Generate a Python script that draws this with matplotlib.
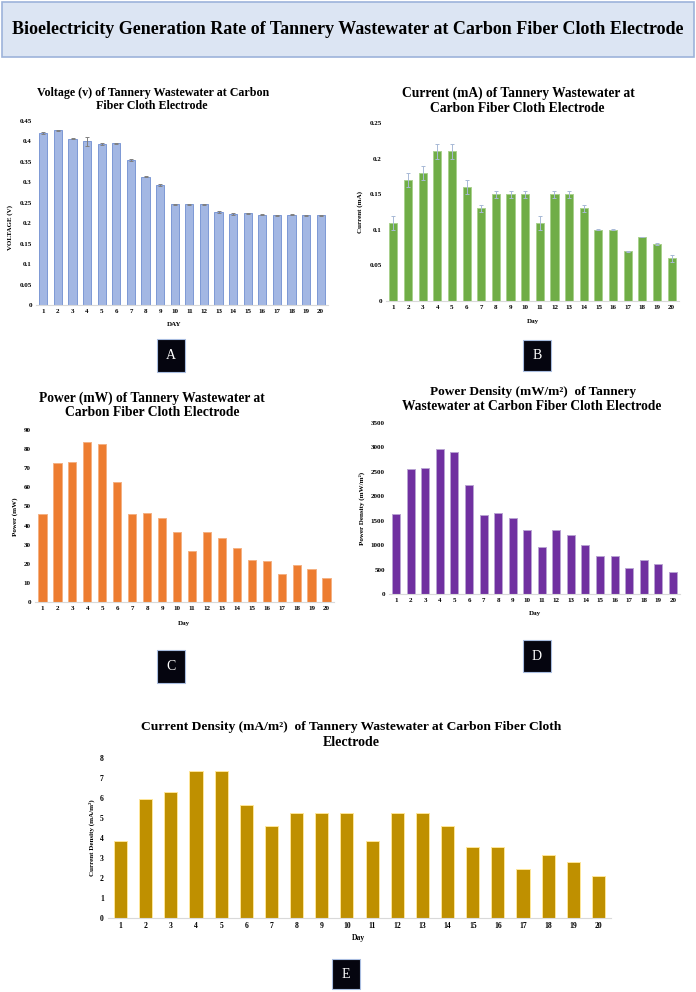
import matplotlib
matplotlib.use("Agg")
import matplotlib.pyplot as plt
from matplotlib.patches import Rectangle

W, H = 696, 992
SERIF = ["Liberation Serif", "DejaVu Serif"]

days = list(range(1, 21))
day_labels = [str(d) for d in days]

voltage = [0.421, 0.427, 0.407, 0.400, 0.394, 0.395, 0.354, 0.314, 0.294, 0.246,
           0.246, 0.246, 0.227, 0.222, 0.224, 0.221, 0.219, 0.221, 0.219, 0.219]
voltage_err = [0.002, 0.002, 0.002, 0.010, 0.002, 0.002, 0.002, 0.002, 0.002, 0.001,
               0.001, 0.001, 0.002, 0.002, 0.001, 0.001, 0.001, 0.001, 0.001, 0.001]

current = [0.11, 0.17, 0.18, 0.21, 0.21, 0.16, 0.13, 0.15, 0.15, 0.15,
           0.11, 0.15, 0.15, 0.13, 0.10, 0.10, 0.07, 0.09, 0.08, 0.06]
current_err = [0.01, 0.01, 0.01, 0.01, 0.01, 0.01, 0.005, 0.005, 0.005, 0.005,
               0.01, 0.005, 0.005, 0.005, 0.0005, 0.0005, 0.0005, 0.0005, 0.001, 0.005]

power = [46.1, 72.5, 73.1, 83.9, 82.5, 62.9, 45.8, 46.8, 43.7, 36.7,
         26.7, 36.7, 33.7, 28.3, 21.8, 21.7, 14.9, 19.4, 17.1, 12.8]

power_density = [1630, 2560, 2575, 2960, 2915, 2225, 1620, 1660, 1550, 1300,
                 955, 1300, 1198, 1012, 776, 776, 531, 701, 613, 456]

current_density = [3.87, 5.97, 6.32, 7.37, 7.37, 5.63, 4.58, 5.26, 5.26, 5.26,
                   3.87, 5.26, 5.26, 4.58, 3.54, 3.54, 2.46, 3.17, 2.80, 2.12]

main_title = "Bioelectricity Generation Rate of Tannery Wastewater at Carbon Fiber Cloth Electrode"

fig = plt.figure(figsize=(W / 100, H / 100), dpi=100)
fig.patch.set_facecolor("white")


def fx(x):
    return x / W


def fy(y):
    return 1 - y / H


def rect(l, r, top, bottom):
    return [fx(l), fy(bottom), (r - l) / W, (bottom - top) / H]


renderer = fig.canvas.get_renderer()


def fit_text(xc, yc, s, target_w, size0=9, **kw):
    t = fig.text(fx(xc), fy(yc), s, ha="center", va="center", family=SERIF,
                 fontweight="bold", fontsize=size0, **kw)
    bb = t.get_window_extent(renderer=renderer)
    if bb.width > 0:
        t.set_fontsize(size0 * target_w / bb.width)
    return t


# header box
fig.patches.append(Rectangle((fx(2), fy(57)), (692) / W, 55 / H, transform=fig.transFigure,
                             facecolor="#dce5f3", edgecolor="#9db3da", linewidth=1.2))
fit_text(348, 30, main_title, 668, size0=13)


def panel(box, values, color, edge, ymax, ystep, yfmt, ylabel, xlabel,
          err=None, errcolor=None, tick_size=5.0, bar_w=0.55):
    ax = fig.add_axes(rect(*box))
    ax.bar(days, values, width=bar_w, color=color, edgecolor=edge, linewidth=0.7,
           yerr=err, error_kw=dict(ecolor=errcolor, elinewidth=0.7, capsize=1.5, capthick=0.7) if err else None)
    ax.set_xlim(0.5, 20.5)
    ax.set_ylim(0, ymax)
    n = int(round(ymax / ystep))
    ticks = [i * ystep for i in range(n + 1)]
    ax.set_yticks(ticks)
    ax.set_yticklabels([yfmt(t) for t in ticks])
    ax.set_xticks(days)
    ax.set_xticklabels(day_labels)
    for sp in ["top", "right", "left"]:
        ax.spines[sp].set_visible(False)
    ax.spines["bottom"].set_color("#d9d9d9")
    ax.spines["bottom"].set_linewidth(0.8)
    ax.tick_params(axis="both", length=0, labelsize=tick_size, pad=3)
    for lab in ax.get_xticklabels() + ax.get_yticklabels():
        lab.set_family(SERIF)
        lab.set_fontweight("bold")
    ax.set_facecolor("none")
    return ax


def gfmt(v):
    s = ("%.2f" % v).rstrip("0").rstrip(".")
    return s if s else "0"


def ifmt(v):
    return "%d" % round(v)


# Panel A
panel((36, 328, 121, 305), voltage, "#a3b7e3", "#7d98d5", 0.45, 0.05, gfmt,
      "VOLTAGE (V)", "DAY", err=voltage_err, errcolor="#808080")
fit_text(153, 93, "Voltage (v) of Tannery Wastewater at Carbon", 233, size0=8)
fit_text(152, 106, "Fiber Cloth Electrode", 111, size0=8)
fig.text(fx(10), fy(228), "VOLTAGE (V)", rotation=90, ha="center", va="center",
         family=SERIF, fontweight="bold", fontsize=5)
fig.text(fx(174), fy(325), "DAY", ha="center", va="center", family=SERIF,
         fontweight="bold", fontsize=5)

# Panel B
panel((386, 679, 123, 301), current, "#70ad47", "#a9d18e", 0.25, 0.05, gfmt,
      "Current (mA)", "Day", err=current_err, errcolor="#a8b9d6")
fit_text(518, 93, "Current (mA) of Tannery Wastewater at", 233, size0=9)
fit_text(517, 108, "Carbon Fiber Cloth Electrode", 174, size0=9)
fig.text(fx(360), fy(212), "Current (mA)", rotation=90, ha="center", va="center",
         family=SERIF, fontweight="bold", fontsize=5)
fig.text(fx(533), fy(321), "Day", ha="center", va="center", family=SERIF,
         fontweight="bold", fontsize=5)

# Panel C
panel((35, 334, 430, 602), power, "#ed7d31", "#f4b183", 90, 10, ifmt,
      "Power (mW)", "Day")
fit_text(152, 398, "Power (mW) of Tannery Wastewater at", 226, size0=9)
fit_text(152, 413, "Carbon Fiber Cloth Electrode", 174, size0=9)
fig.text(fx(15), fy(517), "Power (mW)", rotation=90, ha="center", va="center",
         family=SERIF, fontweight="bold", fontsize=5)
fig.text(fx(184), fy(623), "Day", ha="center", va="center", family=SERIF,
         fontweight="bold", fontsize=5)

# Panel D
panel((389, 680, 423, 594), power_density, "#7030a0", "#b9a3d3", 3500, 500, ifmt,
      "Power Density (mW/m²)", "Day")
fit_text(533, 392, "Power Density (mW/m²)  of Tannery", 204, size0=9)
fit_text(532, 407, "Wastewater at Carbon Fiber Cloth Electrode", 259, size0=9)
fig.text(fx(362), fy(508), "Power Density (mW/m²)", rotation=90, ha="center", va="center",
         family=SERIF, fontweight="bold", fontsize=5)
fig.text(fx(535), fy(614), "Day", ha="center", va="center", family=SERIF,
         fontweight="bold", fontsize=5)

# Panel E
panel((108, 611, 758, 918), current_density, "#bf9000", "#ffe699", 8, 1, ifmt,
      "Current Density (mA/m²)", "Day", tick_size=5.5, bar_w=0.52)
fit_text(351, 727, "Current Density (mA/m²)  of Tannery Wastewater at Carbon Fiber Cloth", 418, size0=9)
fit_text(351, 743, "Electrode", 57, size0=9)
fig.text(fx(92), fy(838), "Current Density (mA/m²)", rotation=90, ha="center", va="center",
         family=SERIF, fontweight="bold", fontsize=5)
fig.text(fx(359), fy(938), "Day", ha="center", va="center", family=SERIF,
         fontweight="bold", fontsize=5.5)

# letter boxes
for letter, (l, r, t, b) in [("A", (157, 185, 339, 372)), ("B", (523, 551, 340, 371)),
                             ("C", (157, 185, 650, 683)), ("D", (523, 551, 640, 672)),
                             ("E", (332, 360, 959, 989))]:
    fig.patches.append(Rectangle((fx(l), fy(b)), (r - l) / W, (b - t) / H,
                                 transform=fig.transFigure, facecolor="#05050f",
                                 edgecolor="#a9bde0", linewidth=0.8))
    fig.text(fx((l + r) / 2), fy((t + b) / 2), letter, ha="center", va="center",
             color="white", family=SERIF, fontsize=10)

fig.savefig("out.png", dpi=100)
